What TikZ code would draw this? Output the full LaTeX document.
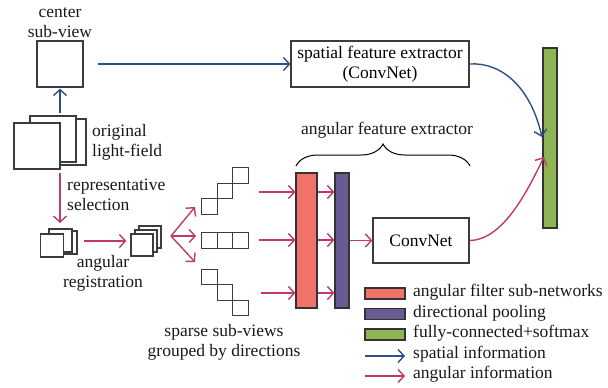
\documentclass[tikz,border=0pt]{standalone}
\usepackage{fontspec}
\setmainfont{Liberation Serif}
\usetikzlibrary{arrows.meta,decorations.pathreplacing}
\definecolor{blu}{RGB}{40,80,140}
\definecolor{pnk}{RGB}{194,56,106}
\definecolor{redf}{RGB}{240,114,104}
\definecolor{purf}{RGB}{106,90,148}
\definecolor{grnf}{RGB}{142,180,84}
\definecolor{edge}{RGB}{60,60,60}
\begin{document}
\begin{tikzpicture}[x=1pt,y=-1pt,
  font=\fontsize{17.5}{20}\selectfont,
  txt/.style={inner sep=0pt, align=center, text=black!90},
  sq/.style={draw=edge, line width=1.2pt, fill=white, inner sep=0pt, minimum width=#1, minimum height=#1},
  boxn/.style={draw=edge, line width=1.2pt, fill=white, inner sep=0pt, align=center},
  barn/.style={draw=black!80, line width=1.2pt, inner sep=0pt},
  tip/.style={-{Straight Barb[length=6pt,width=13pt]}},
  ba/.style={tip, draw=blu, line width=1.4pt},
  pa/.style={tip, draw=pnk, line width=1.4pt}]
\useasboundingbox (0,0) rectangle (608,388);

% center sub-view and original light field
\node[sq=46pt] (csv) at (60,64) {};
\node[txt] (csvl) at (60,23) {center\\sub-view};
\node[sq=46pt] (lf3) at (63,142) {};
\node[sq=46pt] (lf2) at (53,139) {};
\node[sq=46pt] (lf1) at (37,146) {};
\node[txt, anchor=west, align=left] (lfl) at (92,142) {original\\light-field};
\coordinate (b0) at (60,113);
\draw[ba, shorten >=1pt] (b0) -- (csv.south);

% spatial feature extractor
\node[boxn, minimum width=178pt, minimum height=46pt] (sfe) at (380,64) {spatial feature extractor\\(ConvNet)};
\draw[ba, shorten <=14pt] (csv.east) -- (sfe.west);

% green bar
\node[barn, fill=grnf, minimum width=14pt, minimum height=180pt] (grn) at (550,138) {};
\coordinate (bt) at (542,137);
\draw[ba] (sfe.east) .. controls (500,62) and (530,85) .. (bt);

% representative selection
\coordinate (p0) at (60,173);
\coordinate (p1) at (60,223);
\draw[pa] (p0) -- (p1);
\node[txt, anchor=west, align=left] (rsl) at (67,195) {representative\\selection};

% small stack 1
\node[sq=23pt] (s1c) at (65.5,242.5) {};
\node[sq=23pt] (s1b) at (60.5,240.5) {};
\node[sq=23pt] (s1a) at (52,245.5) {};
\node[txt] (arl) at (103,273) {angular\\registration};

% small stack 2
\node[sq=22pt] (s2c) at (150,237) {};
\node[sq=22pt] (s2b) at (146,241) {};
\node[sq=22pt] (s2a) at (142,245) {};
\draw[pa, shorten <=6pt, shorten >=4pt] (s1c.east |- 0,241) -- (s2a.west |- 0,241);

% fan
\coordinate (f0) at (171,236);
\coordinate (fu) at (195,207);
\coordinate (fm) at (196,236);
\coordinate (fd) at (195,262);
\draw[pa] (f0) -- (fu);
\draw[pa] (f0) -- (fm);
\draw[pa] (f0) -- (fd);

% sparse sub-view groups
\node[sq=15.5pt] (u1) at (209.5,206.5) {};
\node[sq=15.5pt] (u2) at (225,191) {};
\node[sq=15.5pt] (u3) at (240.5,175.5) {};
\node[sq=15.5pt] (m1) at (209.5,240.5) {};
\node[sq=15.5pt] (m2) at (225,240.5) {};
\node[sq=15.5pt] (m3) at (240.5,240.5) {};
\node[sq=15.5pt] (d1) at (209.5,277) {};
\node[sq=15.5pt] (d2) at (225,292.5) {};
\node[sq=15.5pt] (d3) at (240.5,308) {};
\node[txt] (spl) at (224,342) {sparse sub-views\\grouped by directions};

% angular feature extractor
\node[barn, fill=redf, minimum width=21pt, minimum height=135pt] (red) at (306.5,240.5) {};
\node[barn, fill=purf, minimum width=14pt, minimum height=135pt] (pur) at (342,240.5) {};
\coordinate (c1) at (259,192);
\coordinate (c2) at (259,240);
\coordinate (c3) at (261,293);
\draw[pa] (c1) -- (c1 -| red.west);
\draw[pa] (c2) -- (c2 -| red.west);
\draw[pa] (c3) -- (c3 -| red.west);
\draw[pa] (red.east |- c1) -- (pur.west |- c1);
\draw[pa] (red.east |- c2) -- (pur.west |- c2);
\draw[pa] (red.east |- c3) -- (pur.west |- c3);
\node[boxn, minimum width=96pt, minimum height=45pt] (cn) at (421,240.5) {ConvNet};
\draw[pa] (pur.east |- cn.west) -- (cn.west);
\coordinate (pt) at (544,157);
\draw[pa] (cn.east) .. controls (505,240) and (530,185) .. (pt);

\coordinate (br0) at (296,166);
\coordinate (br1) at (470,166);
\draw[line width=1pt, decorate, decoration={brace, amplitude=22pt}] (br0) -- (br1);
\node[txt] (afe) at (387,130) {angular feature extractor};

% legend
\node[barn, fill=redf, minimum width=40pt, minimum height=11pt] (lg1) at (385,293.5) {};
\node[barn, fill=purf, minimum width=40pt, minimum height=11pt] (lg2) at (385,314) {};
\node[barn, fill=grnf, minimum width=40pt, minimum height=11pt] (lg3) at (385,334.5) {};
\coordinate (lb0) at (365,356);
\coordinate (lb1) at (405,356);
\coordinate (lp0) at (365,376);
\coordinate (lp1) at (405,376);
\draw[ba] (lb0) -- (lb1);
\draw[pa] (lp0) -- (lp1);
\node[txt, anchor=west] (t1) at (413,292) {angular filter sub-networks};
\node[txt, anchor=west] (t2) at (413,313) {directional pooling};
\node[txt, anchor=west] (t3) at (413,333) {fully-connected+softmax};
\node[txt, anchor=west] (t4) at (413,354) {spatial information};
\node[txt, anchor=west] (t5) at (413,374) {angular information};
\end{tikzpicture}
\end{document}
